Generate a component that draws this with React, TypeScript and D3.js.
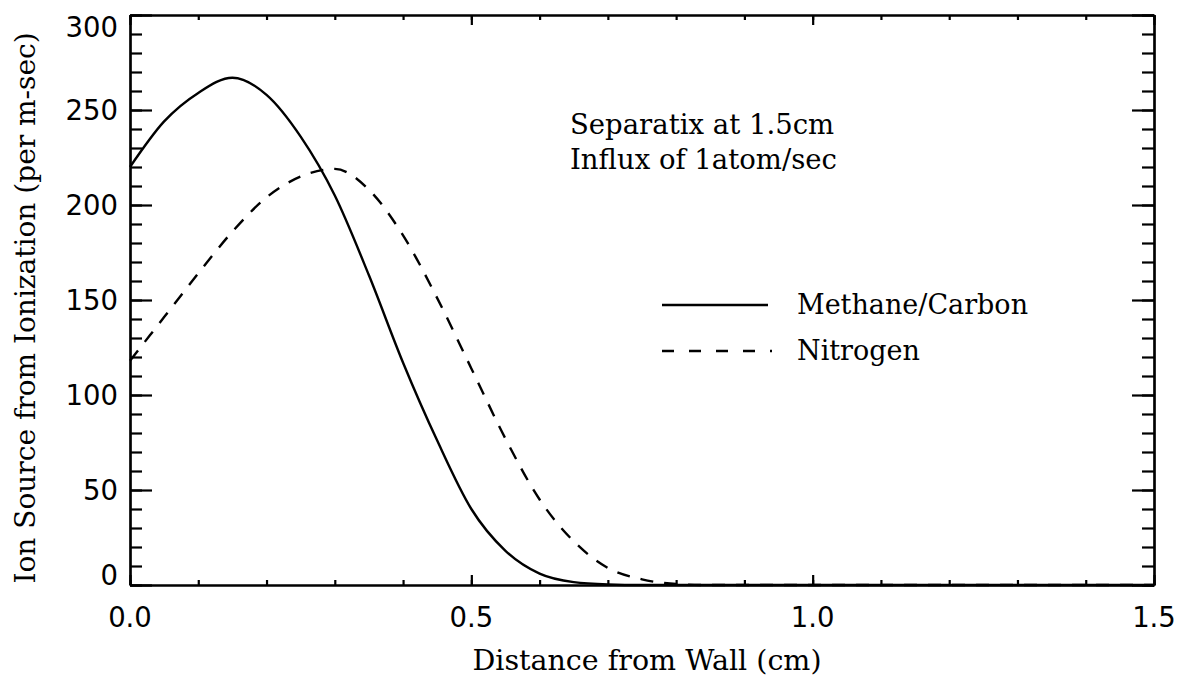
import React, { useEffect, useRef } from 'react';
import * as d3 from 'd3';

// distance from wall (cm), sampled every 0.05
const distance = d3.range(0, 31).map((i) => +(i * 0.05).toFixed(2));

const methane = [
    220, 244, 259, 267, 258, 236, 205, 163, 117, 76,
    40, 18, 6, 1.5, 0.3, 0, 0, 0, 0, 0,
    0, 0, 0, 0, 0, 0, 0, 0, 0, 0, 0,
];

const nitrogen = [
    118, 141, 164, 186, 204, 215, 219, 208, 184, 151,
    114, 77, 45, 23, 9, 3, 0.5, 0, 0, 0,
    0, 0, 0, 0, 0, 0, 0, 0, 0, 0, 0,
];

const xMajor = [0, 0.5, 1.0, 1.5];
const xMinor = d3.range(0, 16).map((i) => +(i * 0.1).toFixed(1));
const yMajor = [0, 50, 100, 150, 200, 250, 300];
const yMinor = d3.range(0, 31).map((i) => i * 10);

const notes = ['Separatix at 1.5cm', 'Influx of 1atom/sec'];
const legendNames = ['Methane/Carbon', 'Nitrogen'];

const serif = '"DejaVu Serif", serif';
const sans = '"DejaVu Sans", sans-serif';

const App: React.FC = () => {
    const ref = useRef<SVGSVGElement | null>(null);

    useEffect(() => {
        document.body.style.margin = '0';
        if (!ref.current) return;
        const svg = d3.select(ref.current);
        svg.selectAll('*').remove();

        const left = 130, right = 1154, top = 15, bottom = 585;

        const x = d3.scaleLinear().domain([0, 1.5]).range([left, right]);
        const y = d3.scaleLinear().domain([0, 300]).range([bottom, top]);

        const drawAxis = (axis: d3.Axis<d3.NumberValue>, tx: number, ty: number) => {
            const g = svg.append('g')
                .attr('transform', `translate(${tx},${ty})`)
                .call(axis.tickFormat(() => '').tickSizeOuter(0));
            g.select('.domain').attr('stroke', '#000').attr('stroke-width', 2.2);
            g.selectAll('.tick line').attr('stroke', '#000').attr('stroke-width', 2.2);
        };

        // y axes (ticks point inward)
        drawAxis(d3.axisLeft(y).tickValues(yMinor).tickSize(-12), left, 0);
        drawAxis(d3.axisLeft(y).tickValues(yMajor).tickSize(-22), left, 0);
        drawAxis(d3.axisRight(y).tickValues(yMinor).tickSize(-12), right, 0);
        drawAxis(d3.axisRight(y).tickValues(yMajor).tickSize(-22), right, 0);
        // x axes
        drawAxis(d3.axisBottom(x).tickValues(xMinor).tickSize(-5), 0, bottom);
        drawAxis(d3.axisBottom(x).tickValues(xMajor).tickSize(-10), 0, bottom);
        drawAxis(d3.axisTop(x).tickValues(xMinor).tickSize(-5), 0, top);
        drawAxis(d3.axisTop(x).tickValues(xMajor).tickSize(-10), 0, top);

        // tick labels
        svg.append('g').selectAll('text')
            .data(yMajor)
            .enter()
            .append('text')
            .attr('x', left - 12)
            .attr('y', (d) => {
                if (d === 300) return y(d) + 22;
                if (d === 0) return y(d);
                return y(d) + 10;
            })
            .attr('text-anchor', 'end')
            .style('font-family', sans)
            .style('font-size', '27.5px')
            .text((d) => `${d}`);

        svg.append('g').selectAll('text')
            .data(xMajor)
            .enter()
            .append('text')
            .attr('x', (d) => x(d))
            .attr('y', 627)
            .attr('text-anchor', 'middle')
            .style('font-family', sans)
            .style('font-size', '27.5px')
            .text((d) => d.toFixed(1));

        // axis titles
        svg.append('text')
            .attr('x', 647)
            .attr('y', 670)
            .attr('text-anchor', 'middle')
            .style('font-family', serif)
            .style('font-size', '28.5px')
            .text('Distance from Wall (cm)');

        svg.append('text')
            .attr('transform', `translate(35,308) rotate(-90)`)
            .attr('text-anchor', 'middle')
            .style('font-family', serif)
            .style('font-size', '28px')
            .text('Ion Source from Ionization (per m-sec)');

        // curves
        const line = d3.line<number>()
            .x((_, i) => x(distance[i]))
            .curve(d3.curveMonotoneX);

        svg.append('path')
            .datum(methane)
            .attr('d', line.y((d) => y(d)))
            .attr('fill', 'none')
            .attr('stroke', '#000')
            .attr('stroke-width', 2.4);

        svg.append('path')
            .datum(nitrogen)
            .attr('d', line.y((d) => y(d)))
            .attr('fill', 'none')
            .attr('stroke', '#000')
            .attr('stroke-width', 2.4)
            .attr('stroke-dasharray', '13,11');

        // annotation
        svg.append('g').selectAll('text')
            .data(notes)
            .enter()
            .append('text')
            .attr('x', 570)
            .attr('y', (_, i) => 134 + i * 35)
            .style('font-family', serif)
            .style('font-size', '27.5px')
            .text((d) => d);

        // legend
        const lg = svg.append('g');
        legendNames.forEach((name, i) => {
            const ly = 305 + i * 46;
            lg.append('line')
                .attr('x1', 662).attr('x2', i === 1 ? 772 : 768)
                .attr('y1', ly).attr('y2', ly)
                .attr('stroke', '#000')
                .attr('stroke-width', 2.4)
                .attr('stroke-dasharray', i === 1 ? '12,15' : null);
            lg.append('text')
                .attr('x', 797)
                .attr('y', ly + 9)
                .style('font-family', serif)
                .style('font-size', '27px')
                .text(name);
        });
    }, []);

    return <svg ref={ref} width={1180} height={681} style={{ display: 'block', background: '#fff' }} />;
};

export default App;
